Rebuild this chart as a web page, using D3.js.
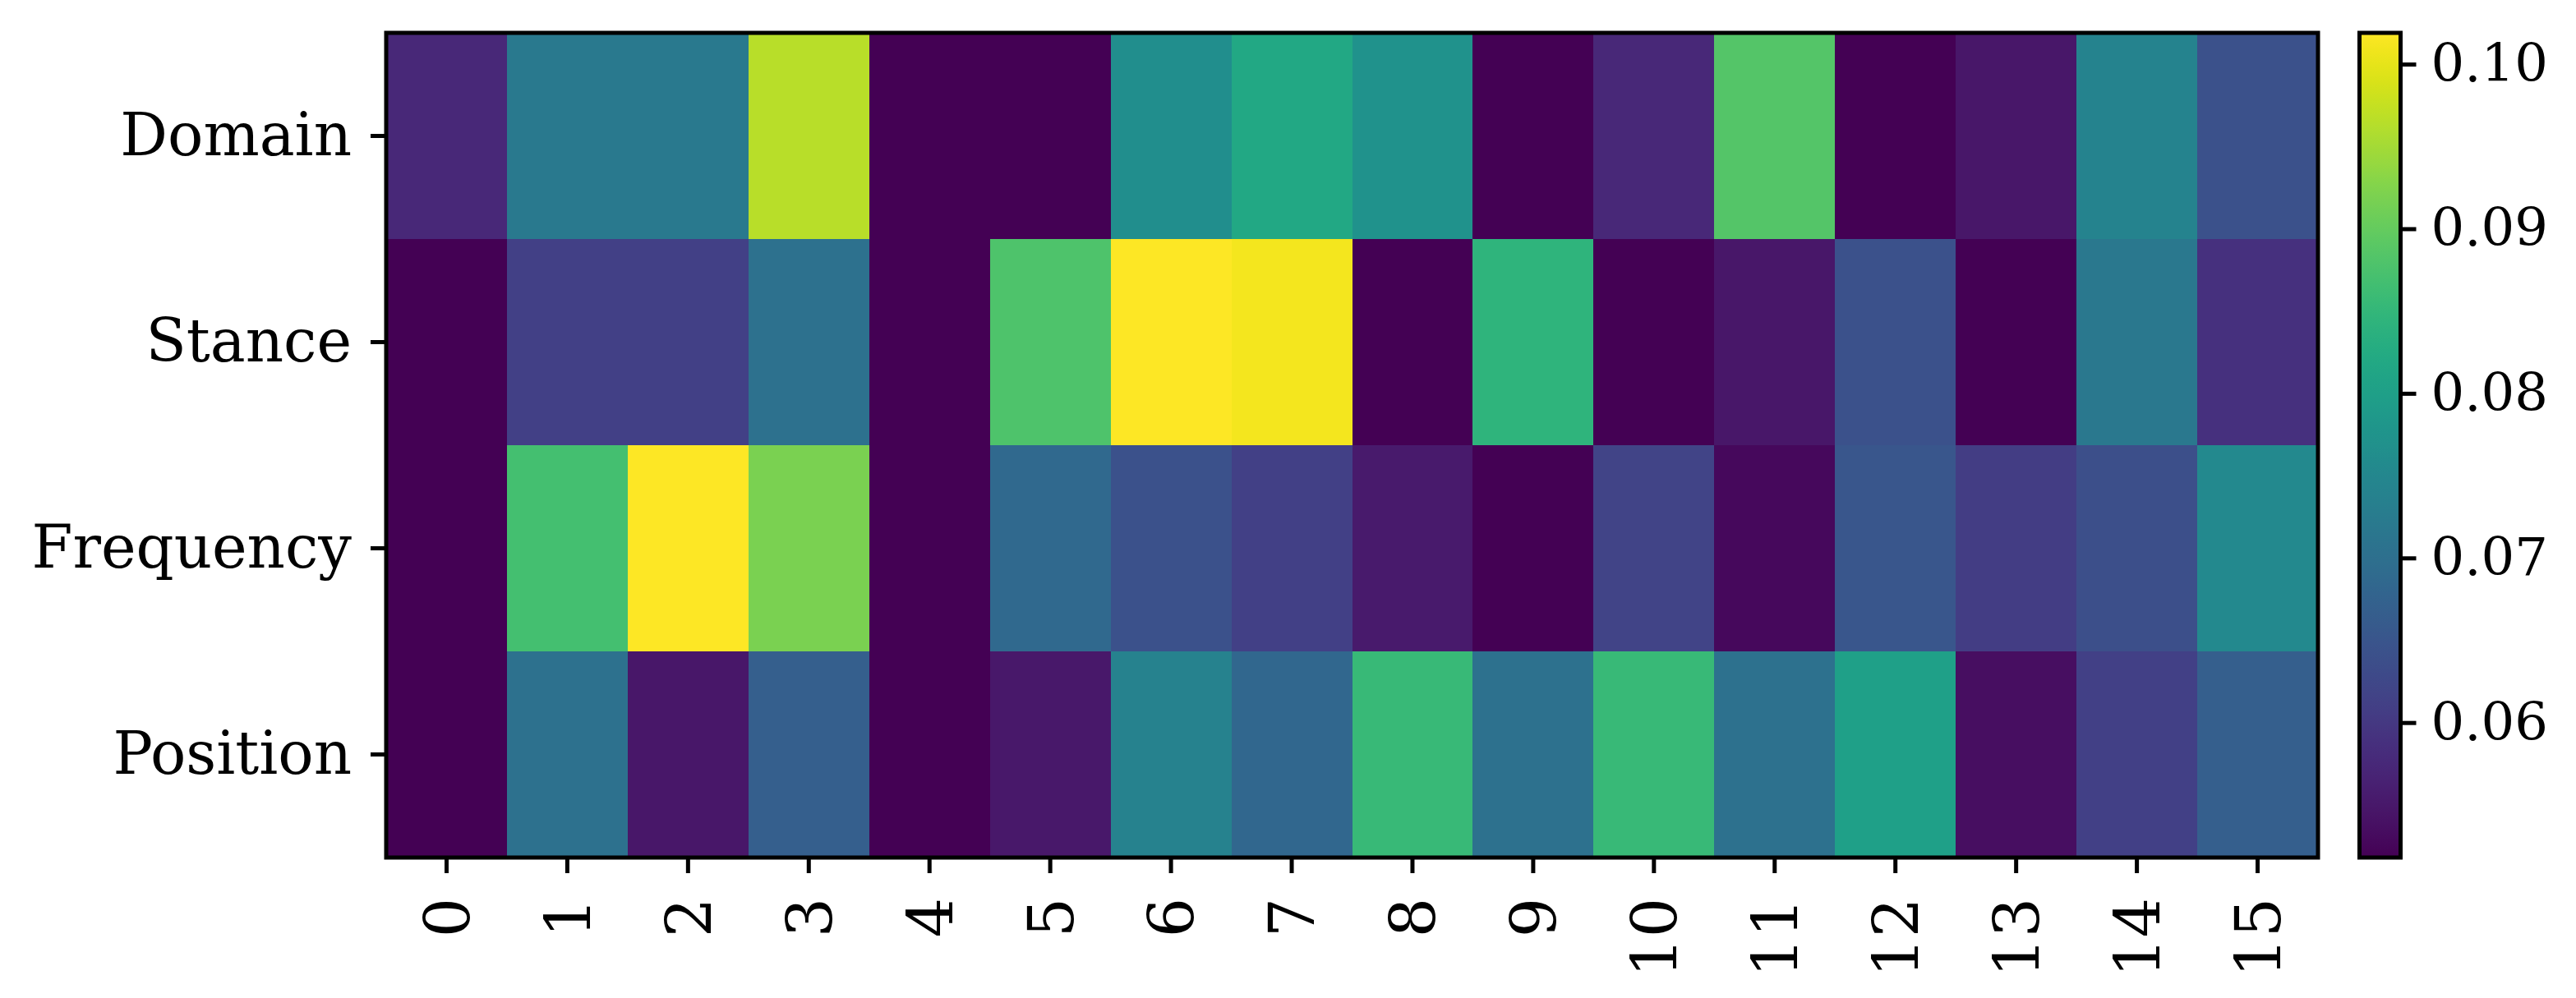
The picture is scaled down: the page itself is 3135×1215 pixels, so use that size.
<!DOCTYPE html>
<html>
<head>
<meta charset="utf-8">
<script src="https://d3js.org/d3.v7.min.js"></script>
<style>
  body { margin: 0; background: #fff; }
  text { font-family: "DejaVu Serif", serif; fill: #000; }
</style>
</head>
<body>
<div class="heat-holder"></div>
<script>
var rows = ["Domain", "Stance", "Frequency", "Position"];
var cols = d3.range(16);

var domainVals    = [0.0573, 0.0721, 0.0720, 0.0966, 0.0518, 0.0518, 0.0763, 0.0819, 0.0774, 0.0518, 0.0573, 0.0884, 0.0518, 0.0548, 0.0743, 0.0643];
var stanceVals    = [0.0518, 0.0613, 0.0613, 0.0703, 0.0518, 0.0879, 0.1019, 0.1011, 0.0518, 0.0844, 0.0518, 0.0548, 0.0643, 0.0518, 0.0718, 0.0588];
var frequencyVals = [0.0518, 0.0869, 0.1019, 0.0919, 0.0518, 0.0688, 0.0643, 0.0613, 0.0553, 0.0518, 0.0618, 0.0528, 0.0653, 0.0608, 0.0638, 0.0753];
var positionVals  = [0.0518, 0.0703, 0.0548, 0.0668, 0.0518, 0.0551, 0.0738, 0.0683, 0.0856, 0.0703, 0.0856, 0.0703, 0.0801, 0.0536, 0.0613, 0.0668];

var cbarTicks = [0.06, 0.07, 0.08, 0.09, 0.10];

var matrix = [domainVals, stanceVals, frequencyVals, positionVals];
var cells = [];
matrix.forEach(function(r, i) {
  r.forEach(function(v, j) { cells.push({row: rows[i], col: cols[j], value: v}); });
});

var W = 3135, H = 1215;
var margin = {top: 40, left: 470, bottom: 171, right: 314};
var width = W - margin.left - margin.right;
var height = H - margin.top - margin.bottom;

var svg = d3.select(".heat-holder").append("svg")
    .attr("width", W).attr("height", H);

var vmin = d3.min(cells, d => d.value), vmax = d3.max(cells, d => d.value);
var color = d3.scaleSequential(d3.interpolateViridis).domain([vmin, vmax]);

var scaleX = d3.scaleBand().domain(cols).range([0, width]).padding(0);
var scaleY = d3.scaleBand().domain(rows).range([0, height]).padding(0);

var grp = svg.append("g").attr("transform", `translate(${margin.left}, ${margin.top})`);

grp.selectAll("rect.cell")
  .data(cells)
  .enter().append("rect")
  .attr("class", "cell")
  .attr("x", d => scaleX(d.col))
  .attr("y", d => scaleY(d.row))
  .attr("width", scaleX.bandwidth() + 0.5)
  .attr("height", scaleY.bandwidth() + 0.5)
  .attr("shape-rendering", "crispEdges")
  .style("fill", d => color(d.value));

/* y axis */
var yAxis = grp.append("g")
  .call(d3.axisLeft(scaleY).tickSize(19).tickPadding(23));
yAxis.select(".domain").remove();
yAxis.selectAll("line").attr("stroke-width", 5);
yAxis.selectAll("text").style("font-size", "72px").attr("font-family", null);

/* x axis, labels rotated */
var xAxis = grp.append("g")
  .attr("transform", `translate(0, ${height})`)
  .call(d3.axisBottom(scaleX).tickSize(19).tickPadding(0));
xAxis.select(".domain").remove();
xAxis.selectAll("line").attr("stroke-width", 5);
xAxis.selectAll("text")
  .attr("font-family", null)
  .style("font-size", "76px")
  .attr("text-anchor", "end")
  .attr("transform", "rotate(-90)")
  .attr("x", -49)
  .attr("y", 0)
  .attr("dy", "0.36em");

grp.append("rect")
  .attr("width", width).attr("height", height)
  .attr("fill", "none").attr("stroke", "#000").attr("stroke-width", 5);

/* colorbar */
var cbX = 2871.5, cbW = 50;
var defs = svg.append("defs");
var grad = defs.append("linearGradient").attr("id", "cbar-grad")
  .attr("x1", 0).attr("y1", 1).attr("x2", 0).attr("y2", 0);
d3.range(0, 1.0001, 0.02).forEach(function(t) {
  grad.append("stop").attr("offset", t).attr("stop-color", d3.interpolateViridis(t));
});

var scaleC = d3.scaleLinear().domain([vmin, vmax]).range([height, 0]);
var cbar = svg.append("g").attr("transform", `translate(${cbX}, ${margin.top})`);
cbar.append("rect").attr("width", cbW).attr("height", height).attr("fill", "url(#cbar-grad)");

var cAxis = cbar.append("g")
  .attr("transform", `translate(${cbW}, 0)`)
  .call(d3.axisRight(scaleC).tickValues(cbarTicks).tickFormat(d3.format(".2f")).tickSize(19).tickPadding(18));
cAxis.select(".domain").remove();
cAxis.selectAll("line").attr("stroke-width", 5);
cAxis.selectAll("text").style("font-size", "64px").attr("font-family", null);

cbar.append("rect")
  .attr("width", cbW).attr("height", height)
  .attr("fill", "none").attr("stroke", "#000").attr("stroke-width", 5);
</script>
</body>
</html>
